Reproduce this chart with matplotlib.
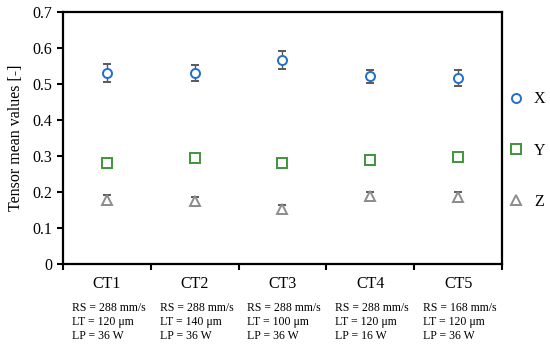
import matplotlib.pyplot as plt
from matplotlib.lines import Line2D
from matplotlib import transforms

plt.rcParams['font.family'] = ['Liberation Serif', 'DejaVu Serif']

#%% data
cats = ['CT1', 'CT2', 'CT3', 'CT4', 'CT5']
params = ['RS = 288 mm/s\nLT = 120 μm\nLP = 36 W',
          'RS = 288 mm/s\nLT = 140 μm\nLP = 36 W',
          'RS = 288 mm/s\nLT = 100 μm\nLP = 36 W',
          'RS = 288 mm/s\nLT = 120 μm\nLP = 16 W',
          'RS = 168 mm/s\nLT = 120 μm\nLP = 36 W']
x_mean = [0.530, 0.531, 0.567, 0.521, 0.517]
x_err = [0.025, 0.022, 0.024, 0.018, 0.023]
y_mean = [0.280, 0.294, 0.280, 0.289, 0.297]
y_err = [0.013, 0.010, 0.012, 0.012, 0.009]
z_mean = [0.179, 0.174, 0.154, 0.190, 0.186]
z_err = [0.013, 0.012, 0.009, 0.010, 0.014]

#%% figure
fig = plt.figure(figsize=(5.5, 3.45), dpi=100)
ax = fig.add_axes([0.1145, 0.2348, 0.7982, 0.7302])

pos = list(range(1, len(cats) + 1))
ecol = '#595959'
series = [(x_mean, x_err, 'o', '#1f6fd0', 'X'),
          (y_mean, y_err, 's', '#3f9537', 'Y'),
          (z_mean, z_err, '^', '#8c8c8c', 'Z')]
handles = []
for m, e, mk, c, lab in series:
    ax.errorbar(pos, m, yerr=e, fmt=mk, mfc='white', mec=c, mew=1.4, ms=6.5,
                ecolor=ecol, elinewidth=1, capsize=3, capthick=1)
    handles.append(Line2D([], [], ls='none', marker=mk, mfc='white', mec=c,
                          mew=1.4, ms=6.5, label=lab))

ax.set_xlim(0.5, 5.5)
ax.set_ylim(0, 0.7)
ax.set_yticks([0, 0.1, 0.2, 0.3, 0.4, 0.5, 0.6, 0.7])
ax.set_yticklabels(['0', '0.1', '0.2', '0.3', '0.4', '0.5', '0.6', '0.7'])
ax.set_xticks([0.5, 1.5, 2.5, 3.5, 4.5, 5.5])
ax.set_xticklabels([])
ax.set_xticks(pos, minor=True)
ax.set_xticklabels(cats, minor=True)
ax.tick_params(axis='x', which='minor', length=0, pad=9, labelsize=11.5)
ax.tick_params(axis='x', which='major', length=4, width=1.5, direction='out')
ax.tick_params(axis='y', length=4, width=1.5, direction='out', labelsize=11.5)
for s in ax.spines.values():
    s.set_linewidth(1.6)
ax.set_ylabel('Tensor mean values [-]', fontsize=11.5, labelpad=6)

trans = transforms.blended_transform_factory(ax.transData, ax.transAxes)
for p, t in zip(pos, params):
    ax.text(p - 0.40, -0.15, t, transform=trans, ha='left', va='top',
            fontsize=8.5, linespacing=1.25)

ax.legend(handles=handles, loc='center left', bbox_to_anchor=(1.0, 0.45),
          frameon=False, fontsize=11.5, labelspacing=2.2, handletextpad=0.6,
          handlelength=1.0, borderaxespad=0, borderpad=0.4)

fig.savefig('out.png', dpi=100)
